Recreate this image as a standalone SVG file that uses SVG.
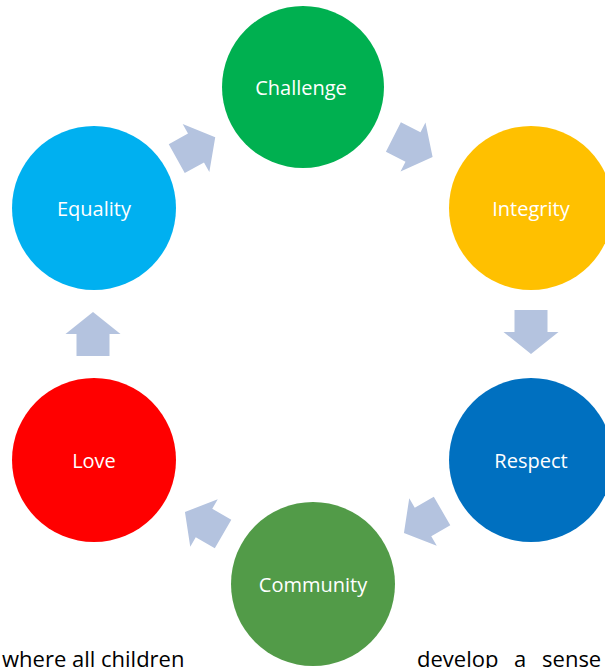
<svg xmlns="http://www.w3.org/2000/svg" width="605" height="668" viewBox="0 0 605 668">
<style>
.lbl{font-family:"Open Sans","Noto Sans",sans-serif;font-size:20px;fill:#ffffff;text-anchor:middle;dominant-baseline:central}
.body{font-family:"Open Sans","Noto Sans",sans-serif;font-size:22px;fill:#000000}
.arr{fill:#B4C3DF}
</style>
<defs>
<path id="blk" d="M-22,-16.5 L0,-16.5 L0,-27.5 L22,0 L0,27.5 L0,16.5 L-22,16.5 Z"/>
</defs>
<rect width="605" height="668" fill="#ffffff"/>
<g id="connectors">
<use href="#blk" class="arr" transform="translate(196,148) rotate(-29)"/>
<use href="#blk" class="arr" transform="translate(413,147) rotate(27)"/>
<use href="#blk" class="arr" transform="translate(531,332) rotate(90)"/>
<use href="#blk" class="arr" transform="translate(423,522) rotate(150)"/>
<use href="#blk" class="arr" transform="translate(204,523) rotate(210)"/>
<use href="#blk" class="arr" transform="translate(93,334) rotate(-90)"/>
</g>
<g id="challenge"><circle cx="303" cy="87" r="81" fill="#00B050"/><text class="lbl" x="301" y="87">Challenge</text></g>
<g id="integrity"><circle cx="531" cy="208" r="82" fill="#FFC000"/><text class="lbl" x="531" y="208">Integrity</text></g>
<g id="respect"><circle cx="531" cy="460" r="82" fill="#0070C0"/><text class="lbl" x="531" y="460">Respect</text></g>
<g id="community"><circle cx="313" cy="584" r="82" fill="#529B48"/><text class="lbl" x="313" y="584">Community</text></g>
<g id="love"><circle cx="94" cy="460" r="82" fill="#FF0000"/><text class="lbl" x="94" y="460">Love</text></g>
<g id="equality"><circle cx="94" cy="208" r="82" fill="#00B0F0"/><text class="lbl" x="94" y="208">Equality</text></g>
<text class="body" x="2" y="667">where all children</text>
<text class="body" x="417" y="667" word-spacing="10">develop a sense</text>
</svg>
